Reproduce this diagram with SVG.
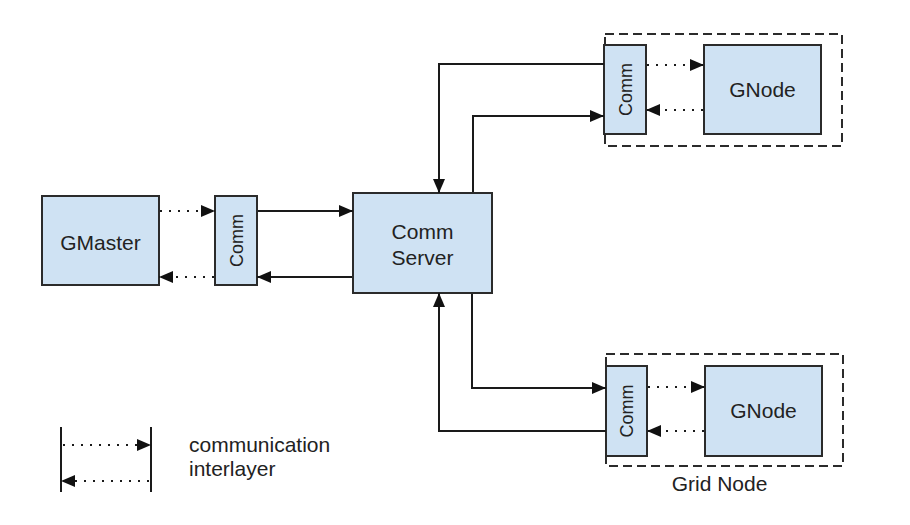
<svg xmlns="http://www.w3.org/2000/svg" width="910" height="525" viewBox="0 0 910 525">
<defs>
<marker id="ah" markerUnits="userSpaceOnUse" markerWidth="16" markerHeight="14" refX="14" refY="6" orient="auto" overflow="visible">
<path d="M0,0 L14,6 L0,12 z" fill="#111"/>
</marker>
</defs>
<style>
.box{fill:#cfe2f3;stroke:#2b2b2b;stroke-width:2}
.grp{fill:none;stroke:#2b2b2b;stroke-width:2;stroke-dasharray:9,5}
.ln{fill:none;stroke:#1a1a1a;stroke-width:2}
.dt{fill:none;stroke:#1a1a1a;stroke-width:2;stroke-dasharray:2,7}
.t{font-family:"Liberation Sans",Arial,sans-serif;font-size:21px;fill:#222;text-anchor:middle}
.tc{font-family:"Liberation Sans",Arial,sans-serif;font-size:18px;fill:#222;text-anchor:middle}
.tl{font-family:"Liberation Sans",Arial,sans-serif;font-size:21px;fill:#222}
</style>
<rect width="910" height="525" fill="#fff"/>
<g id="gridnode-top"><rect class="grp" x="605" y="34" width="237" height="112"/></g>
<g id="gridnode-bottom"><rect class="grp" x="606" y="354" width="237" height="112"/><text class="t" x="719.5" y="491">Grid Node</text></g>
<g id="gmaster"><rect class="box" x="42" y="196" width="117" height="89"/><text class="t" x="100.5" y="250">GMaster</text></g>
<g id="comm-left"><rect class="box" x="215" y="196" width="42" height="89"/><text class="tc" transform="translate(242.5,240.5) rotate(-90)">Comm</text></g>
<g id="commserver"><rect class="box" x="353" y="193" width="139" height="100"/><text class="t" x="422.5" y="239">Comm</text><text class="t" x="422.5" y="265">Server</text></g>
<g id="comm-top"><rect class="box" x="604" y="45" width="42" height="89"/><text class="tc" transform="translate(631.5,89.5) rotate(-90)">Comm</text></g>
<g id="gnode-top"><rect class="box" x="704" y="45" width="117" height="89"/><text class="t" x="762.5" y="97">GNode</text></g>
<g id="comm-bottom"><rect class="box" x="606" y="366" width="41" height="90"/><text class="tc" transform="translate(633,411) rotate(-90)">Comm</text></g>
<g id="gnode-bottom"><rect class="box" x="705" y="366" width="117" height="90"/><text class="t" x="763.5" y="418">GNode</text></g>
<g id="connectors">
<path class="dt" d="M160,211 H215" marker-end="url(#ah)"/>
<path class="dt" d="M214,277 H159" marker-end="url(#ah)"/>
<path class="ln" d="M258,211 H353" marker-end="url(#ah)"/>
<path class="ln" d="M352,277 H257" marker-end="url(#ah)"/>
<path class="ln" d="M604,64 H439 V193" marker-end="url(#ah)"/>
<path class="ln" d="M473,192 V116 H604" marker-end="url(#ah)"/>
<path class="dt" d="M647,65 H704" marker-end="url(#ah)"/>
<path class="dt" d="M703,110 H646" marker-end="url(#ah)"/>
<path class="ln" d="M472,294 V388 H606" marker-end="url(#ah)"/>
<path class="ln" d="M606,431 H439 V293" marker-end="url(#ah)"/>
<path class="dt" d="M648,387 H705" marker-end="url(#ah)"/>
<path class="dt" d="M704,431 H647" marker-end="url(#ah)"/>
</g>
<g id="legend">
<path class="ln" d="M61,427 V492 M151,427 V492"/>
<path class="dt" d="M63,445 H151" marker-end="url(#ah)"/>
<path class="dt" d="M149,481 H61" marker-end="url(#ah)"/>
<text class="tl" x="189" y="452">communication</text>
<text class="tl" x="189" y="476">interlayer</text>
</g>
</svg>
